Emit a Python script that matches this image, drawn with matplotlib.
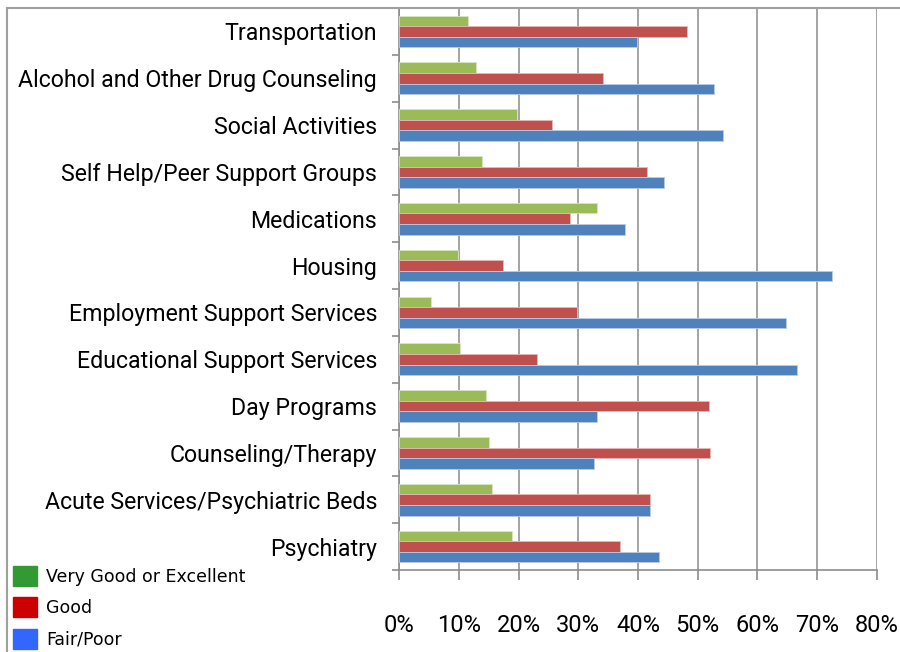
import numpy as np
import matplotlib
matplotlib.use('Agg')
from matplotlib import pyplot as plt
from matplotlib.lines import Line2D
from matplotlib.patches import Patch

# categories top to bottom
servicios = ['Transportation', 'Alcohol and Other Drug Counseling', 'Social Activities',
             'Self Help/Peer Support Groups', 'Medications', 'Housing',
             'Employment Support Services', 'Educational Support Services',
             'Day Programs', 'Counseling/Therapy', 'Acute Services/Psychiatric Beds',
             'Psychiatry']

muy_bueno = [11.5, 12.8, 19.8, 13.8, 33.2, 9.9, 5.3, 10.1, 14.5, 15.0, 15.6, 18.9]
bueno = [48.2, 34.1, 25.6, 41.5, 28.6, 17.4, 29.8, 23.0, 51.9, 52.0, 42.0, 37.0]
regular = [39.9, 52.8, 54.3, 44.3, 37.9, 72.5, 64.8, 66.6, 33.2, 32.7, 42.0, 43.6]

etiquetas_x = ['0%', '10%', '20%', '30%', '40%', '50%', '60%', '70%', '80%']

fuente = ['Roboto', 'DejaVu Sans']

fig = plt.figure(figsize=(9, 6.52), dpi=100)
ax = fig.add_axes([399.3/900, 1-570/652, (876.7-399.3)/900, (570-8)/652])

y = np.arange(len(servicios))
h = 0.225
ax.barh(y - h, muy_bueno, height=h, color='#9bbb59', edgecolor='#d8e6c0', linewidth=0.6, zorder=3)
ax.barh(y, bueno, height=h, color='#c0504d', edgecolor='#e8b8b6', linewidth=0.6, zorder=3)
ax.barh(y + h, regular, height=h, color='#4f81bd', edgecolor='#b8cce6', linewidth=0.6, zorder=3)

ax.set_xlim(0, 80)
ax.set_ylim(len(servicios) - 0.5, -0.5)

ax.set_xticks(np.arange(0, 81, 10))
ax.set_xticklabels(etiquetas_x, family=fuente, fontsize=17)
ax.set_yticks(y)
ax.set_yticklabels(servicios, family=fuente, fontsize=16.7)
ax.set_yticks(np.arange(-0.5, len(servicios), 1), minor=True)

ax.tick_params(axis='y', which='major', length=0, pad=16)
ax.tick_params(axis='y', which='minor', length=5, width=1.2, color='#8c8c8c', direction='out')
ax.tick_params(axis='x', which='major', length=7, width=1.2, color='#8c8c8c', pad=25)

ax.grid(True, axis='x', color='#8c8c8c', linewidth=1.1, zorder=0)
for lado in ['top', 'right']:
    ax.spines[lado].set_visible(False)
for lado in ['left', 'bottom']:
    ax.spines[lado].set_color('#8c8c8c')
    ax.spines[lado].set_linewidth(1.2)

# marco del grafico
fig.add_artist(Line2D([7/900, 1], [1-8/652, 1-8/652], color='#a0a0a0', linewidth=1.5))
fig.add_artist(Line2D([7/900, 7/900], [0, 1-8/652], color='#a0a0a0', linewidth=1.5))

manijas = [Patch(color='#339933'), Patch(color='#cc0000'), Patch(color='#3366ff')]
fig.legend(manijas, ['Very Good or Excellent', 'Good', 'Fair/Poor'],
           loc='upper left', bbox_to_anchor=(13/900, 1-566/652), frameon=False,
           borderpad=0, borderaxespad=0, handlelength=1.4, handleheight=1.4,
           handletextpad=0.5, labelspacing=0.65, prop={'size': 12.5, 'family': 'DejaVu Sans'})

plt.savefig('out.png', dpi=100)
